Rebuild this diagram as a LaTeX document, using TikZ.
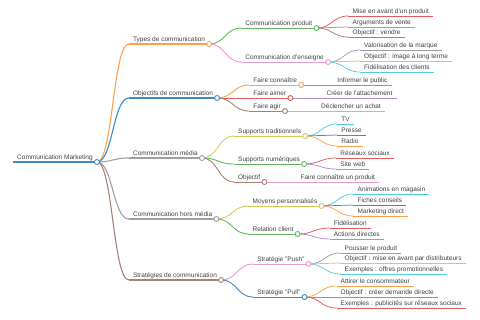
\documentclass[tikz,border=0pt]{standalone}
\usepackage{fontspec}
\setmainfont{Liberation Sans}
\usetikzlibrary{calc}
\pgfdeclarelayer{bg}
\pgfsetlayers{bg,main}
\definecolor{b0}{HTML}{1F77B4}
\definecolor{b1}{HTML}{FF7F0E}
\definecolor{b2}{HTML}{2CA02C}
\definecolor{b3}{HTML}{D62728}
\definecolor{b4}{HTML}{9467BD}
\definecolor{b5}{HTML}{8C564B}
\definecolor{b6}{HTML}{E377C2}
\definecolor{b7}{HTML}{7F7F7F}
\definecolor{b8}{HTML}{BCBD22}
\definecolor{b9}{HTML}{17BECF}
\colorlet{c0}{b0!85!white}
\colorlet{c1}{b1!75!white}
\colorlet{c2}{b2!75!white}
\colorlet{c3}{b3!75!white}
\colorlet{c4}{b4!75!white}
\colorlet{c5}{b5!75!white}
\colorlet{c6}{b6!75!white}
\colorlet{c7}{b7!75!white}
\colorlet{c8}{b8!75!white}
\colorlet{c9}{b9!75!white}
\tikzset{
  mmtext/.style={font=\fontsize{6.5}{7}\selectfont, text=black!75, inner sep=0pt, anchor=base west},
  lwroot/.style={line width=1.8pt},
  lwone/.style={line width=1.1pt},
  lwtwo/.style={line width=0.9pt},
  lwthree/.style={line width=0.75pt},
  mmdot/.style={fill=white, line width=0.9pt}
}
% #1 name, #2 parent, #3 y, #4 colour, #5 width style, #6 text
\newcommand\mmnode[6]{%
  \path let \p1=(#2-r) in (\x1+32pt,-#3pt) coordinate (#1-l);
  \node[mmtext] (#1) at ($(#1-l)+(4pt,2.2pt)$) {#6};
  \path let \p1=(#1.east), \p2=(#1-l) in (\x1+4pt,\y2) coordinate (#1-r);
  \draw[#4, #5] (#1-l) -- (#1-r);
  \begin{pgfonlayer}{bg}
  \draw[#4, #5] let \p1=(#2-r), \p2=(#1-l) in
    (\p1) .. controls ({(\x1+\x2)/2},\y1) and ({(\x1+\x2)/2},\y2) .. (\p2);
  \end{pgfonlayer}%
}
\newcommand\mmcirc[2]{\draw[#2, mmdot] (#1-r) circle (2.5pt);}
\begin{document}
\begin{tikzpicture}[x=1pt,y=1pt]
\useasboundingbox (0,0) rectangle (480,-320);
% root
\coordinate (root-l) at (13pt,-162pt);
\node[mmtext] (root) at ($(root-l)+(4pt,2.2pt)$) {Communication Marketing};
\path let \p1=(root.east), \p2=(root-l) in (\x1+4pt,\y2) coordinate (root-r);
\draw[c0, lwroot] (root-l) -- (root-r);
\mmcirc{root}{c0}
% level 1
\mmnode{types}{root}{44}{c1}{lwone}{Types de communication}\mmcirc{types}{c1}
\mmnode{obj}{root}{98}{c0}{lwone}{Objectifs de communication}\mmcirc{obj}{c0}
\mmnode{media}{root}{158}{c7}{lwone}{Communication média}\mmcirc{media}{c7}
\mmnode{hors}{root}{219}{c7}{lwone}{Communication hors média}\mmcirc{hors}{c7}
\mmnode{strat}{root}{280}{c5}{lwone}{Stratégies de communication}\mmcirc{strat}{c5}
% types
\mmnode{prod}{types}{28}{c2}{lwtwo}{Communication produit}\mmcirc{prod}{c2}
\mmnode{mise}{prod}{16}{c3}{lwthree}{Mise en avant d'un produit}
\mmnode{arg}{prod}{27}{c4}{lwthree}{Arguments de vente}
\mmnode{vendre}{prod}{37}{c5}{lwthree}{Objectif : vendre}
\mmnode{ens}{types}{62}{c6}{lwtwo}{Communication d'enseigne}\mmcirc{ens}{c6}
\mmnode{valo}{ens}{50}{c7}{lwthree}{Valorisation de la marque}
\mmnode{image}{ens}{61}{c8}{lwthree}{Objectif : image à long terme}
\mmnode{fidc}{ens}{72}{c9}{lwthree}{Fidélisation des clients}
% objectifs
\mmnode{conn}{obj}{85}{c1}{lwtwo}{Faire connaître}\mmcirc{conn}{c1}
\mmnode{info}{conn}{85}{c2}{lwthree}{Informer le public}
\mmnode{aimer}{obj}{98}{c3}{lwtwo}{Faire aimer}\mmcirc{aimer}{c3}
\mmnode{creer}{aimer}{98}{c4}{lwthree}{Créer de l'attachement}
\mmnode{agir}{obj}{111}{c5}{lwtwo}{Faire agir}\mmcirc{agir}{c5}
\mmnode{decl}{agir}{111}{c6}{lwthree}{Déclencher un achat}
% media
\mmnode{trad}{media}{136}{c8}{lwtwo}{Supports traditionnels}\mmcirc{trad}{c8}
\mmnode{tv}{trad}{124}{c9}{lwthree}{TV}
\mmnode{presse}{trad}{135}{c0}{lwthree}{Presse}
\mmnode{radio}{trad}{146}{c1}{lwthree}{Radio}
\mmnode{num}{media}{164}{c2}{lwtwo}{Supports numériques}\mmcirc{num}{c2}
\mmnode{res}{num}{158}{c3}{lwthree}{Réseaux sociaux}
\mmnode{site}{num}{169}{c4}{lwthree}{Site web}
\mmnode{objm}{media}{182}{c5}{lwtwo}{Objectif}\mmcirc{objm}{c5}
\mmnode{fcp}{objm}{182}{c6}{lwthree}{Faire connaître un produit}
% hors media
\mmnode{moy}{hors}{206}{c8}{lwtwo}{Moyens personnalisés}\mmcirc{moy}{c8}
\mmnode{anim}{moy}{194}{c9}{lwthree}{Animations en magasin}
\mmnode{fiches}{moy}{205}{c0}{lwthree}{Fiches conseils}
\mmnode{mkt}{moy}{216}{c1}{lwthree}{Marketing direct}
\mmnode{rel}{hors}{234}{c2}{lwtwo}{Relation client}\mmcirc{rel}{c2}
\mmnode{fid}{rel}{228}{c3}{lwthree}{Fidélisation}
\mmnode{act}{rel}{239}{c4}{lwthree}{Actions directes}
% strategies
\mmnode{push}{strat}{264}{c6}{lwtwo}{Stratégie "Push"}\mmcirc{push}{c6}
\mmnode{pous}{push}{253}{c7}{lwthree}{Pousser le produit}
\mmnode{objmise}{push}{263}{c8}{lwthree}{Objectif : mise en avant par distributeurs}
\mmnode{exo}{push}{274}{c9}{lwthree}{Exemples : offres promotionnelles}
\mmnode{pull}{strat}{297}{c0}{lwtwo}{Stratégie "Pull"}\mmcirc{pull}{c0}
\mmnode{att}{pull}{286}{c1}{lwthree}{Attirer le consommateur}
\mmnode{objcr}{pull}{297}{c2}{lwthree}{Objectif : créer demande directe}
\mmnode{exp}{pull}{308}{c3}{lwthree}{Exemples : publicités sur réseaux sociaux}
\end{tikzpicture}
\end{document}
